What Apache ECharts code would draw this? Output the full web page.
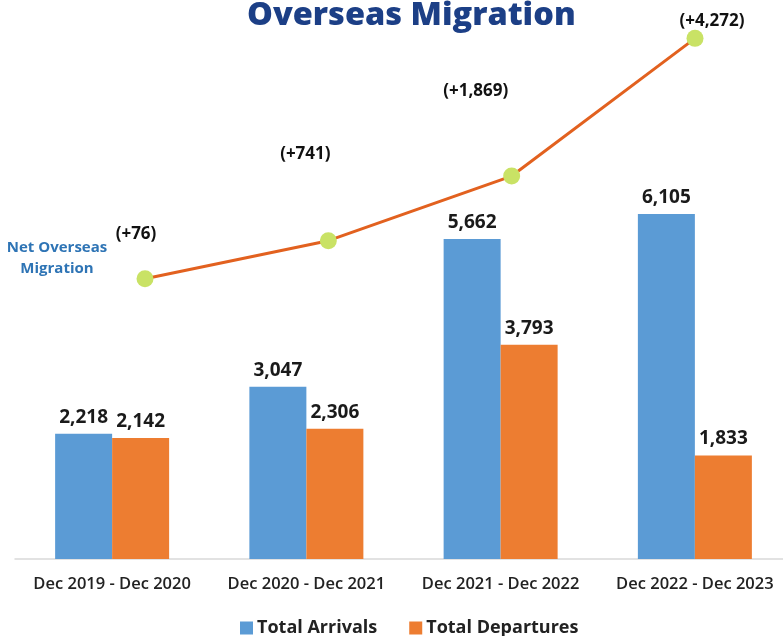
<!DOCTYPE html>
<html>
<head>
<meta charset="utf-8">
<script src="https://cdn.jsdelivr.net/npm/echarts@6/dist/echarts.min.js"></script>
<style>
  html, body { margin: 0; padding: 0; background: #fff; }
  #chart { width: 783px; height: 636px; }
</style>
</head>
<body>
<div id="chart"></div>
<script>
var periods = ["Dec 2019 - Dec 2020", "Dec 2020 - Dec 2021", "Dec 2021 - Dec 2022", "Dec 2022 - Dec 2023"];
var arrivals = [2218, 3047, 5662, 6105];
var departures = [2142, 2306, 3793, 1833];
var netMigration = [76, 741, 1869, 4272];

function fmt(v) {
    return v.toLocaleString("en-US");
}

var chart = echarts.init(document.getElementById("chart"));

// label nudges for the net line
var netLabelOffset = [[-9, -28], [-23, -70], [-36, -68], [17, 0]];

var barLabel = {
    show: true,
    position: "top",
    distance: 7,
    fontSize: 19,
    fontWeight: 700,
    color: "#1a1a1a",
    formatter: function (p) { return fmt(p.value); }
};

var option = {
    animation: false,
    textStyle: { fontFamily: "Open Sans" },
    title: {
        text: "Overseas Migration",
        left: 242,
        top: -6,
        textStyle: { fontSize: 32.5, fontWeight: 800, color: "#1c3f86", fontFamily: "Open Sans" }
    },
    legend: {
        bottom: -6,
        left: 235,
        itemWidth: 13,
        itemHeight: 13,
        itemGap: 32,
        icon: "rect",
        data: ["Total Arrivals", "Total Departures"],
        textStyle: { fontSize: 18, fontWeight: 700, color: "#222", padding: [0, 0, 0, -1] }
    },
    graphic: [{
        type: "text",
        x: 57,
        y: 258,
        style: {
            text: "Net Overseas\nMigration",
            align: "center",
            verticalAlign: "middle",
            fill: "#2e74b5",
            font: "bold 15px 'Open Sans'",
            lineHeight: 21
        }
    }],
    grid: [
        { left: 15, width: 777, top: 30, bottom: 77, outerBoundsMode: "none", containLabel: false },
        { left: 145, width: 550, top: 30, bottom: 77, outerBoundsMode: "none", containLabel: false }
    ],
    xAxis: [{
        type: "category",
        gridIndex: 0,
        data: periods,
        axisTick: { show: false },
        axisLine: { lineStyle: { color: "#d9d9d9", width: 1.5 } },
        axisLabel: { interval: 0, hideOverlap: false, margin: 17, fontSize: 16.5, fontWeight: 600, color: "#222" }
    }, {
        type: "category",
        gridIndex: 1,
        data: periods,
        boundaryGap: false,
        show: false
    }],
    yAxis: [{
        type: "value",
        gridIndex: 0,
        min: 0,
        max: 9360,
        show: false,
        splitLine: { show: false }
    }, {
        type: "value",
        gridIndex: 1,
        min: -4814,
        max: 4418,
        show: false,
        splitLine: { show: false }
    }],
    series: [{
        name: "Total Arrivals",
        type: "bar",
        xAxisIndex: 0,
        yAxisIndex: 0,
        data: arrivals,
        barWidth: 57,
        barGap: "0%",
        itemStyle: { color: "#5b9bd5" },
        label: barLabel
    }, {
        name: "Total Departures",
        type: "bar",
        xAxisIndex: 0,
        yAxisIndex: 0,
        data: departures,
        barWidth: 57,
        itemStyle: { color: "#ed7d31" },
        label: barLabel
    }, {
        name: "Net Overseas Migration",
        type: "line",
        xAxisIndex: 1,
        yAxisIndex: 1,
        clip: false,
        data: netMigration.map(function (v, i) {
            return { value: v, label: { offset: netLabelOffset[i] } };
        }),
        symbol: "circle",
        symbolSize: 17,
        lineStyle: { color: "#e2611f", width: 3 },
        itemStyle: { color: "#c9e265" },
        z: 5,
        label: {
            show: true,
            position: "top",
            distance: 0,
            fontSize: 17,
            fontWeight: 700,
            color: "#111",
            formatter: function (p) { return "(+" + fmt(p.value) + ")"; }
        }
    }]
};

chart.setOption(option);
</script>
</body>
</html>
